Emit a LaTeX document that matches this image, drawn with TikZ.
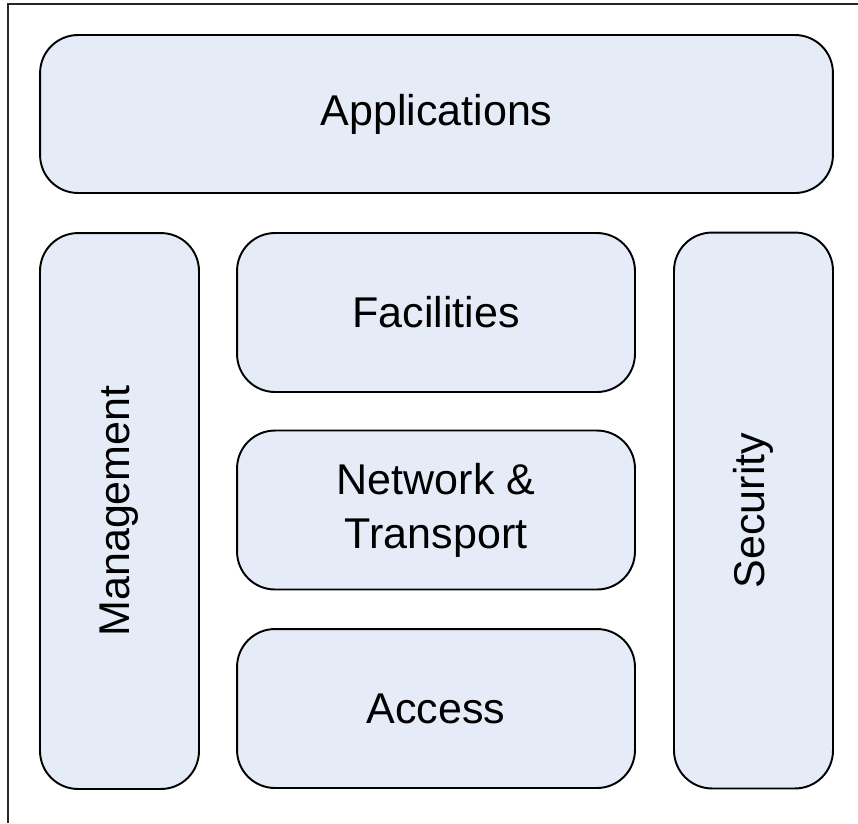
\documentclass[tikz,border=0pt]{standalone}
\usepackage{fontspec}
\setmainfont{Liberation Sans}
\usepackage{tikz}
\usetikzlibrary{shapes,arrows,backgrounds,positioning,fit}
\definecolor{layerblue}{HTML}{E6ECF7}

\begin{document}
\begin{tikzpicture}[x=0.02cm, y=-0.02cm]
			\tikzstyle{Layer}	= [rectangle, draw, line width=1.1pt, fill=layerblue, rounded corners=0.76cm, inner sep=0pt, align=center, font=\fontsize{24.5}{30.7}\selectfont]
			\tikzstyle{Wide}	= [minimum width=7.96cm, minimum height=3.18cm]
			\tikzstyle{Side}	= [minimum width=11.12cm, minimum height=3.18cm, rotate=90]
			\tikzstyle{Frame}	= [line width=1.1pt, black!85]
			
			\useasboundingbox (0,0) rectangle (858,823);
			\draw (8,823) -- (8,4) -- (858,4) [Frame];
			
			\node (App) at (436.5, 114) [Layer][minimum width=15.86cm, minimum height=3.16cm] {Applications};
			\node (Mgmt) at (119.5, 511) [Layer][Side] {Management};
			\node (Sec) at (753.5, 510.5) [Layer][Side] {Security};
			\foreach \name/\y/\txt in {Fac/312.5/Facilities, Net/510/Network \&\\Transport, Acc/708.5/Access}
				\node (\name) at (436, \y) [Layer][Wide] {\txt};
		\end{tikzpicture}
\end{document}
